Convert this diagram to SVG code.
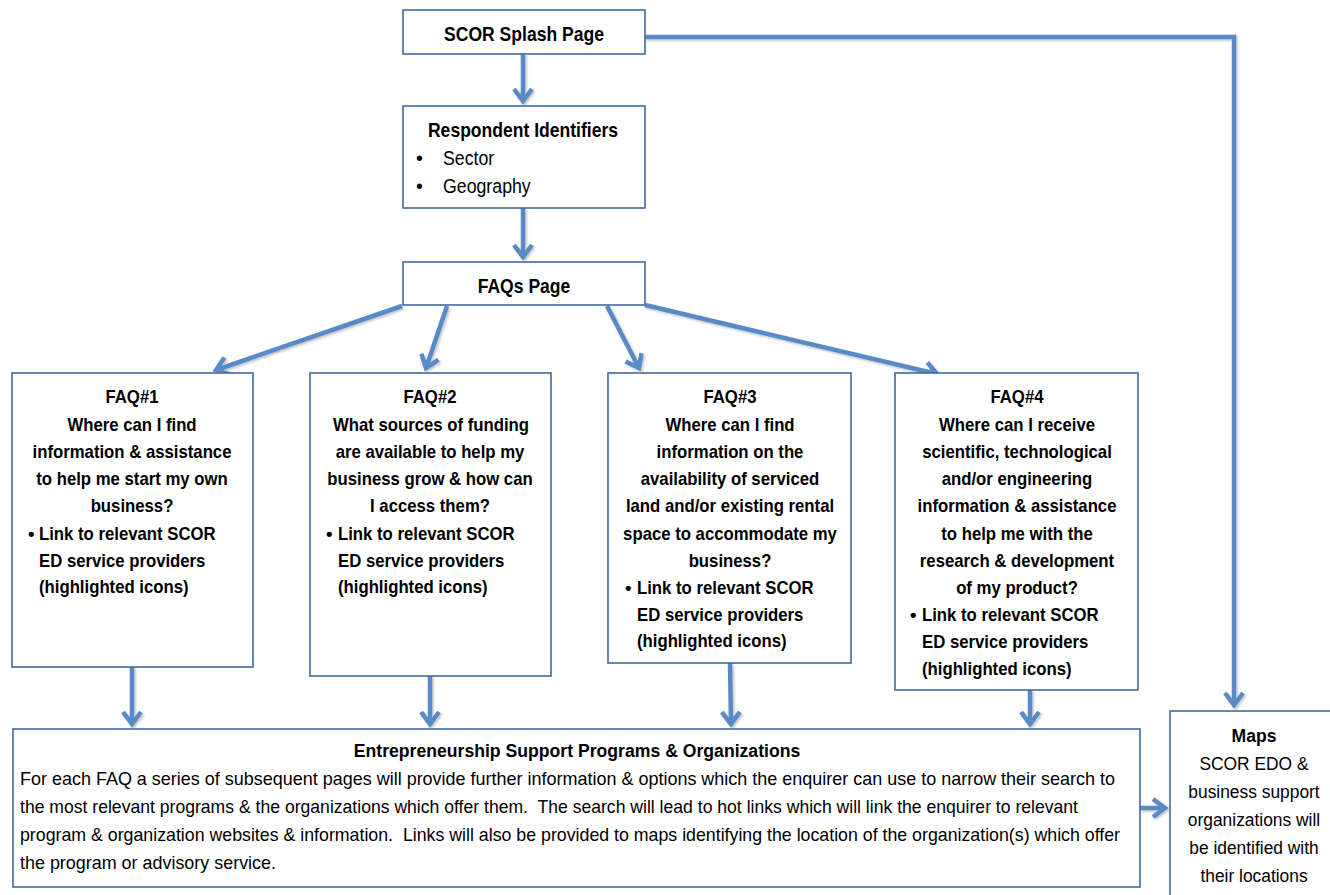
<svg xmlns="http://www.w3.org/2000/svg" width="1330" height="895" viewBox="0 0 1330 895">
<style>
  .box { fill: #ffffff; stroke: #41699c; stroke-width: 1.6; }
  .t { font-family: "Liberation Sans", Arial, sans-serif; font-size: 18.5px; fill: #000; }
  .b { font-weight: bold; }
  .c { text-anchor: middle; }
  .conn { fill: none; stroke: #5a8ac6; stroke-width: 4.5; }
</style>
<defs>
  <marker id="ah" markerUnits="userSpaceOnUse" viewBox="-16 -12 20 24" refX="0" refY="0" markerWidth="20" markerHeight="24" orient="auto">
    <path d="M -12 -9 L 0 0 L -12 9" fill="none" stroke="#5a8ac6" stroke-width="4.5" stroke-linejoin="miter"/>
  </marker>
  <filter id="sh" x="-5%" y="-5%" width="110%" height="110%">
    <feDropShadow dx="1.5" dy="1.5" stdDeviation="1" flood-color="#000" flood-opacity="0.25"/>
  </filter>
</defs>

<g id="connectors" filter="url(#sh)">
  <path class="conn" d="M 523 54 L 523 101" marker-end="url(#ah)"/>
  <path class="conn" d="M 523 208 L 523 257" marker-end="url(#ah)"/>
  <path class="conn" d="M 402 306 L 216 370" marker-end="url(#ah)"/>
  <path class="conn" d="M 447 306 L 426 368" marker-end="url(#ah)"/>
  <path class="conn" d="M 607 306 L 639 368" marker-end="url(#ah)"/>
  <path class="conn" d="M 645 305 L 937 374" marker-end="url(#ah)"/>
  <path class="conn" d="M 132 667 L 132 724" marker-end="url(#ah)"/>
  <path class="conn" d="M 430 676 L 430 724" marker-end="url(#ah)"/>
  <path class="conn" d="M 730 663 L 731 724" marker-end="url(#ah)"/>
  <path class="conn" d="M 1030 690 L 1030 724" marker-end="url(#ah)"/>
  <path class="conn" d="M 645 37 L 1234 37 L 1234 705" marker-end="url(#ah)"/>
  <path class="conn" d="M 1140 808 L 1165 808" marker-end="url(#ah)"/>
</g>

<g id="splash">
  <rect class="box" x="403" y="10" width="242" height="44"/>
  <text class="t b c" transform="matrix(0.9 0 0 1 524 0)" y="41" style="font-size:19.5px">SCOR Splash Page</text>
</g>

<g id="respondent">
  <rect class="box" x="403" y="106" width="242" height="102"/>
  <text class="t b c" transform="matrix(0.9 0 0 1 523 0)" y="137" style="font-size:19.5px">Respondent Identifiers</text>
  <text class="t" x="416" y="165" style="font-size:19.5px">•</text>
  <text class="t" transform="matrix(0.91 0 0 1 443 0)" y="165" style="font-size:19.5px">Sector</text>
  <text class="t" x="416" y="193" style="font-size:19.5px">•</text>
  <text class="t" transform="matrix(0.91 0 0 1 443 0)" y="193" style="font-size:19.5px">Geography</text>
</g>

<g id="faqs-page">
  <rect class="box" x="403" y="262" width="242" height="43"/>
  <text class="t b c" transform="matrix(0.9 0 0 1 524 0)" y="293" style="font-size:19.5px">FAQs Page</text>
</g>

<g id="faq1">
  <rect class="box" x="12" y="373" width="241" height="294"/>
  <text class="t b c" transform="matrix(0.905 0 0 1 132 0)" y="403">FAQ#1</text>
  <text class="t b c" transform="matrix(0.905 0 0 1 132 0)" y="431">Where can I find</text>
  <text class="t b c" transform="matrix(0.905 0 0 1 132 0)" y="458">information &amp; assistance</text>
  <text class="t b c" transform="matrix(0.905 0 0 1 132 0)" y="485">to help me start my own</text>
  <text class="t b c" transform="matrix(0.905 0 0 1 132 0)" y="512">business?</text>
  <text class="t b" x="28" y="540">•</text>
  <text class="t b" transform="matrix(0.905 0 0 1 39 0)" y="540">Link to relevant SCOR</text>
  <text class="t b" transform="matrix(0.905 0 0 1 39 0)" y="567">ED service providers</text>
  <text class="t b" transform="matrix(0.905 0 0 1 39 0)" y="593">(highlighted icons)</text>
</g>

<g id="faq2">
  <rect class="box" x="310" y="373" width="241" height="303"/>
  <text class="t b c" transform="matrix(0.905 0 0 1 430 0)" y="403">FAQ#2</text>
  <text class="t b c" transform="matrix(0.905 0 0 1 431 0)" y="431">What sources of funding</text>
  <text class="t b c" transform="matrix(0.905 0 0 1 430 0)" y="458">are available to help my</text>
  <text class="t b c" transform="matrix(0.905 0 0 1 430 0)" y="485">business grow &amp; how can</text>
  <text class="t b c" transform="matrix(0.905 0 0 1 430 0)" y="512">I access them?</text>
  <text class="t b" x="326" y="540">•</text>
  <text class="t b" transform="matrix(0.905 0 0 1 338 0)" y="540">Link to relevant SCOR</text>
  <text class="t b" transform="matrix(0.905 0 0 1 338 0)" y="567">ED service providers</text>
  <text class="t b" transform="matrix(0.905 0 0 1 338 0)" y="593">(highlighted icons)</text>
</g>

<g id="faq3">
  <rect class="box" x="608" y="373" width="243" height="290"/>
  <text class="t b c" transform="matrix(0.905 0 0 1 730 0)" y="403">FAQ#3</text>
  <text class="t b c" transform="matrix(0.905 0 0 1 730 0)" y="431">Where can I find</text>
  <text class="t b c" transform="matrix(0.905 0 0 1 730 0)" y="458">information on the</text>
  <text class="t b c" transform="matrix(0.905 0 0 1 730 0)" y="485">availability of serviced</text>
  <text class="t b c" transform="matrix(0.905 0 0 1 730 0)" y="512">land and/or existing rental</text>
  <text class="t b c" transform="matrix(0.905 0 0 1 730 0)" y="540">space to accommodate my</text>
  <text class="t b c" transform="matrix(0.905 0 0 1 730 0)" y="567">business?</text>
  <text class="t b" x="625" y="594">•</text>
  <text class="t b" transform="matrix(0.905 0 0 1 637 0)" y="594">Link to relevant SCOR</text>
  <text class="t b" transform="matrix(0.905 0 0 1 637 0)" y="621">ED service providers</text>
  <text class="t b" transform="matrix(0.905 0 0 1 637 0)" y="647">(highlighted icons)</text>
</g>

<g id="faq4">
  <rect class="box" x="895" y="373" width="243" height="317"/>
  <text class="t b c" transform="matrix(0.905 0 0 1 1017 0)" y="403">FAQ#4</text>
  <text class="t b c" transform="matrix(0.905 0 0 1 1017 0)" y="431">Where can I receive</text>
  <text class="t b c" transform="matrix(0.905 0 0 1 1017 0)" y="458">scientific, technological</text>
  <text class="t b c" transform="matrix(0.905 0 0 1 1017 0)" y="485">and/or engineering</text>
  <text class="t b c" transform="matrix(0.905 0 0 1 1017 0)" y="512">information &amp; assistance</text>
  <text class="t b c" transform="matrix(0.905 0 0 1 1017 0)" y="540">to help me with the</text>
  <text class="t b c" transform="matrix(0.905 0 0 1 1017 0)" y="567">research &amp; development</text>
  <text class="t b c" transform="matrix(0.905 0 0 1 1017 0)" y="594">of my product?</text>
  <text class="t b" x="910" y="621">•</text>
  <text class="t b" transform="matrix(0.905 0 0 1 922 0)" y="621">Link to relevant SCOR</text>
  <text class="t b" transform="matrix(0.905 0 0 1 922 0)" y="648">ED service providers</text>
  <text class="t b" transform="matrix(0.905 0 0 1 922 0)" y="675">(highlighted icons)</text>
</g>

<g id="entrepreneurship">
  <rect class="box" x="13" y="729" width="1127" height="158"/>
  <text class="t b c" transform="matrix(0.953 0 0 1 577 0)" y="757">Entrepreneurship Support Programs &amp; Organizations</text>
  <text class="t" x="20" y="785" textLength="1095" lengthAdjust="spacingAndGlyphs">For each FAQ a series of subsequent pages will provide further information &amp; options which the enquirer can use to narrow their search to</text>
  <text class="t" x="20" y="813" textLength="1058" lengthAdjust="spacingAndGlyphs" xml:space="preserve">the most relevant programs &amp; the organizations which offer them.  The search will lead to hot links which will link the enquirer to relevant</text>
  <text class="t" x="20" y="841" textLength="1100" lengthAdjust="spacingAndGlyphs" xml:space="preserve">program &amp; organization websites &amp; information.  Links will also be provided to maps identifying the location of the organization(s) which offer</text>
  <text class="t" x="20" y="869" textLength="256" lengthAdjust="spacingAndGlyphs">the program or advisory service.</text>
</g>

<g id="maps">
  <rect class="box" x="1170" y="711" width="175" height="200"/>
  <text class="t b c" transform="matrix(0.95 0 0 1 1254 0)" y="742">Maps</text>
  <text class="t c" transform="matrix(0.94 0 0 1 1254 0)" y="770">SCOR EDO &amp;</text>
  <text class="t c" transform="matrix(0.94 0 0 1 1254 0)" y="798">business support</text>
  <text class="t c" transform="matrix(0.94 0 0 1 1254 0)" y="826">organizations will</text>
  <text class="t c" transform="matrix(0.94 0 0 1 1254 0)" y="854">be identified with</text>
  <text class="t c" transform="matrix(0.94 0 0 1 1254 0)" y="882">their locations</text>
</g>
</svg>
